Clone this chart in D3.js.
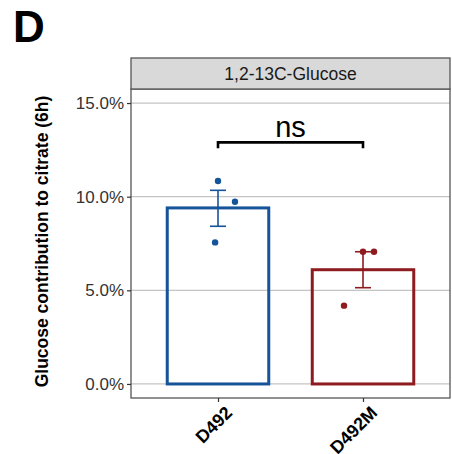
<html>
  <head>
    <script src="https://d3js.org/d3.v7.min.js"></script>
    <style>
      body { margin: 0; background: #fff; }
      text { font-family: Arial, "Liberation Sans", sans-serif; }
    </style>
  </head>

  <body>
    <div id="vis"></div>
  </body>

  <script>
    // data
    var groups = ["D492", "D492M"]
    var means = [9.4, 6.1]
    var seUpper = [10.34, 7.06]
    var seLower = [8.42, 5.14]
    // replicate points, with their jitter (in category units)
    var pointGroup = ["D492", "D492", "D492", "D492M", "D492M", "D492M"]
    var pointValue = [10.84, 9.73, 7.56, 7.06, 7.06, 4.18]
    var pointJitter = [0.0, 0.117, -0.02, 0.0, 0.076, -0.131]
    var yTicks = [0, 5, 10, 15]
    var colors = ["#16549a", "#8e1b1f"]
    var stripTitle = "1,2-13C-Glucose"
    var sigLabel = "ns"

    var W = 452, H = 454
    var panel = {left: 131, right: 450, top: 89, bottom: 398}
    var stripTop = 58

    var svg = d3.select("#vis")
      .append("svg")
      .attr("width", W)
      .attr("height", H)

    // panel label
    svg.append("text")
      .attr("x", 13)
      .attr("y", 42)
      .attr("font-size", 44)
      .attr("font-weight", "bold")
      .text("D")

    var x = d3.scalePoint()
      .domain(groups)
      .range([panel.left, panel.right])
      .padding(0.6)
    var step = x.step()

    var y = d3.scaleLinear()
      .domain([-0.75, 15.75])
      .range([panel.bottom, panel.top])

    var color = d3.scaleOrdinal().domain(groups).range(colors)

    // grid
    svg.append("g")
      .selectAll("line")
      .data(yTicks)
      .enter()
      .append("line")
      .attr("x1", panel.left)
      .attr("x2", panel.right)
      .attr("y1", function(d) { return y(d) })
      .attr("y2", function(d) { return y(d) })
      .attr("stroke", "#c4c4c4")
      .attr("stroke-width", 1.3)

    // bars
    svg.append("g")
      .selectAll("rect")
      .data(groups)
      .enter()
      .append("rect")
      .attr("x", function(d) { return x(d) - step * 0.35 })
      .attr("width", step * 0.7)
      .attr("y", function(d, i) { return y(means[i]) })
      .attr("height", function(d, i) { return y(0) - y(means[i]) })
      .attr("fill", "none")
      .attr("stroke", function(d) { return color(d) })
      .attr("stroke-width", 3)

    // error bars
    var eb = svg.append("g")
      .selectAll("g")
      .data(groups)
      .enter()
      .append("g")
      .attr("stroke", function(d) { return color(d) })
      .attr("stroke-width", 1.6)
    eb.append("line")
      .attr("x1", function(d) { return x(d) })
      .attr("x2", function(d) { return x(d) })
      .attr("y1", function(d, i) { return y(seUpper[i]) })
      .attr("y2", function(d, i) { return y(seLower[i]) })
    eb.append("line")
      .attr("x1", function(d) { return x(d) - 8 })
      .attr("x2", function(d) { return x(d) + 8 })
      .attr("y1", function(d, i) { return y(seUpper[i]) })
      .attr("y2", function(d, i) { return y(seUpper[i]) })
    eb.append("line")
      .attr("x1", function(d) { return x(d) - 8 })
      .attr("x2", function(d) { return x(d) + 8 })
      .attr("y1", function(d, i) { return y(seLower[i]) })
      .attr("y2", function(d, i) { return y(seLower[i]) })

    // points
    svg.append("g")
      .selectAll("circle")
      .data(pointValue)
      .enter()
      .append("circle")
      .attr("cx", function(d, i) { return x(pointGroup[i]) + pointJitter[i] * step })
      .attr("cy", function(d) { return y(d) })
      .attr("r", 3.2)
      .attr("fill", function(d, i) { return color(pointGroup[i]) })

    // significance bracket
    var bY = y(12.9)
    svg.append("path")
      .attr("d", "M" + x(groups[0]) + "," + (bY + 6) + "V" + bY + "H" + x(groups[1]) + "V" + (bY + 6))
      .attr("fill", "none")
      .attr("stroke", "black")
      .attr("stroke-width", 2.6)
    svg.append("text")
      .attr("x", (x(groups[0]) + x(groups[1])) / 2)
      .attr("y", bY - 5)
      .attr("text-anchor", "middle")
      .attr("font-size", 29)
      .text(sigLabel)

    // panel border
    svg.append("rect")
      .attr("x", panel.left)
      .attr("y", panel.top)
      .attr("width", panel.right - panel.left)
      .attr("height", panel.bottom - panel.top)
      .attr("fill", "none")
      .attr("stroke", "#555")
      .attr("stroke-width", 1.3)

    // facet strip
    svg.append("rect")
      .attr("x", panel.left)
      .attr("y", stripTop)
      .attr("width", panel.right - panel.left)
      .attr("height", panel.top - stripTop)
      .attr("fill", "#d9d9d9")
      .attr("stroke", "#555")
      .attr("stroke-width", 1.3)
    svg.append("text")
      .attr("x", (panel.left + panel.right) / 2)
      .attr("y", (stripTop + panel.top) / 2 + 6)
      .attr("text-anchor", "middle")
      .attr("font-size", 17.5)
      .attr("fill", "#1a1a1a")
      .text(stripTitle)

    // y axis
    var yAxis = svg.append("g")
      .attr("transform", "translate(" + panel.left + ",0)")
      .call(d3.axisLeft(y).tickValues(yTicks).tickSize(4).tickPadding(3)
        .tickFormat(function(d) { return d.toFixed(1) + "%" }))
    yAxis.select(".domain").remove()
    yAxis.selectAll("line").attr("stroke", "#333").attr("stroke-width", 1.2)
    yAxis.selectAll("text")
      .attr("font-size", 17)
      .attr("fill", "#333")
      .attr("font-family", "Arial, 'Liberation Sans', sans-serif")

    // x axis
    var xAxis = svg.append("g")
      .attr("transform", "translate(0," + panel.bottom + ")")
      .call(d3.axisBottom(x).tickSize(4).tickPadding(2))
    xAxis.select(".domain").remove()
    xAxis.selectAll("line").attr("stroke", "#333").attr("stroke-width", 1.2)
    xAxis.selectAll("text")
      .attr("font-size", 18)
      .attr("font-weight", "bold")
      .attr("fill", "black")
      .attr("font-family", "Arial, 'Liberation Sans', sans-serif")
      .attr("text-anchor", "end")
      .attr("y", 0)
      .attr("dy", "0.7em")
      .attr("transform", "translate(6,7) rotate(-45)")

    // y title
    svg.append("text")
      .attr("transform", "translate(48," + ((panel.top + panel.bottom) / 2 - 2) + ") rotate(-90)")
      .attr("text-anchor", "middle")
      .attr("font-size", 17.5)
      .attr("font-weight", "bold")
      .text("Glucose contribution to citrate (6h)")
  </script>
</html>
